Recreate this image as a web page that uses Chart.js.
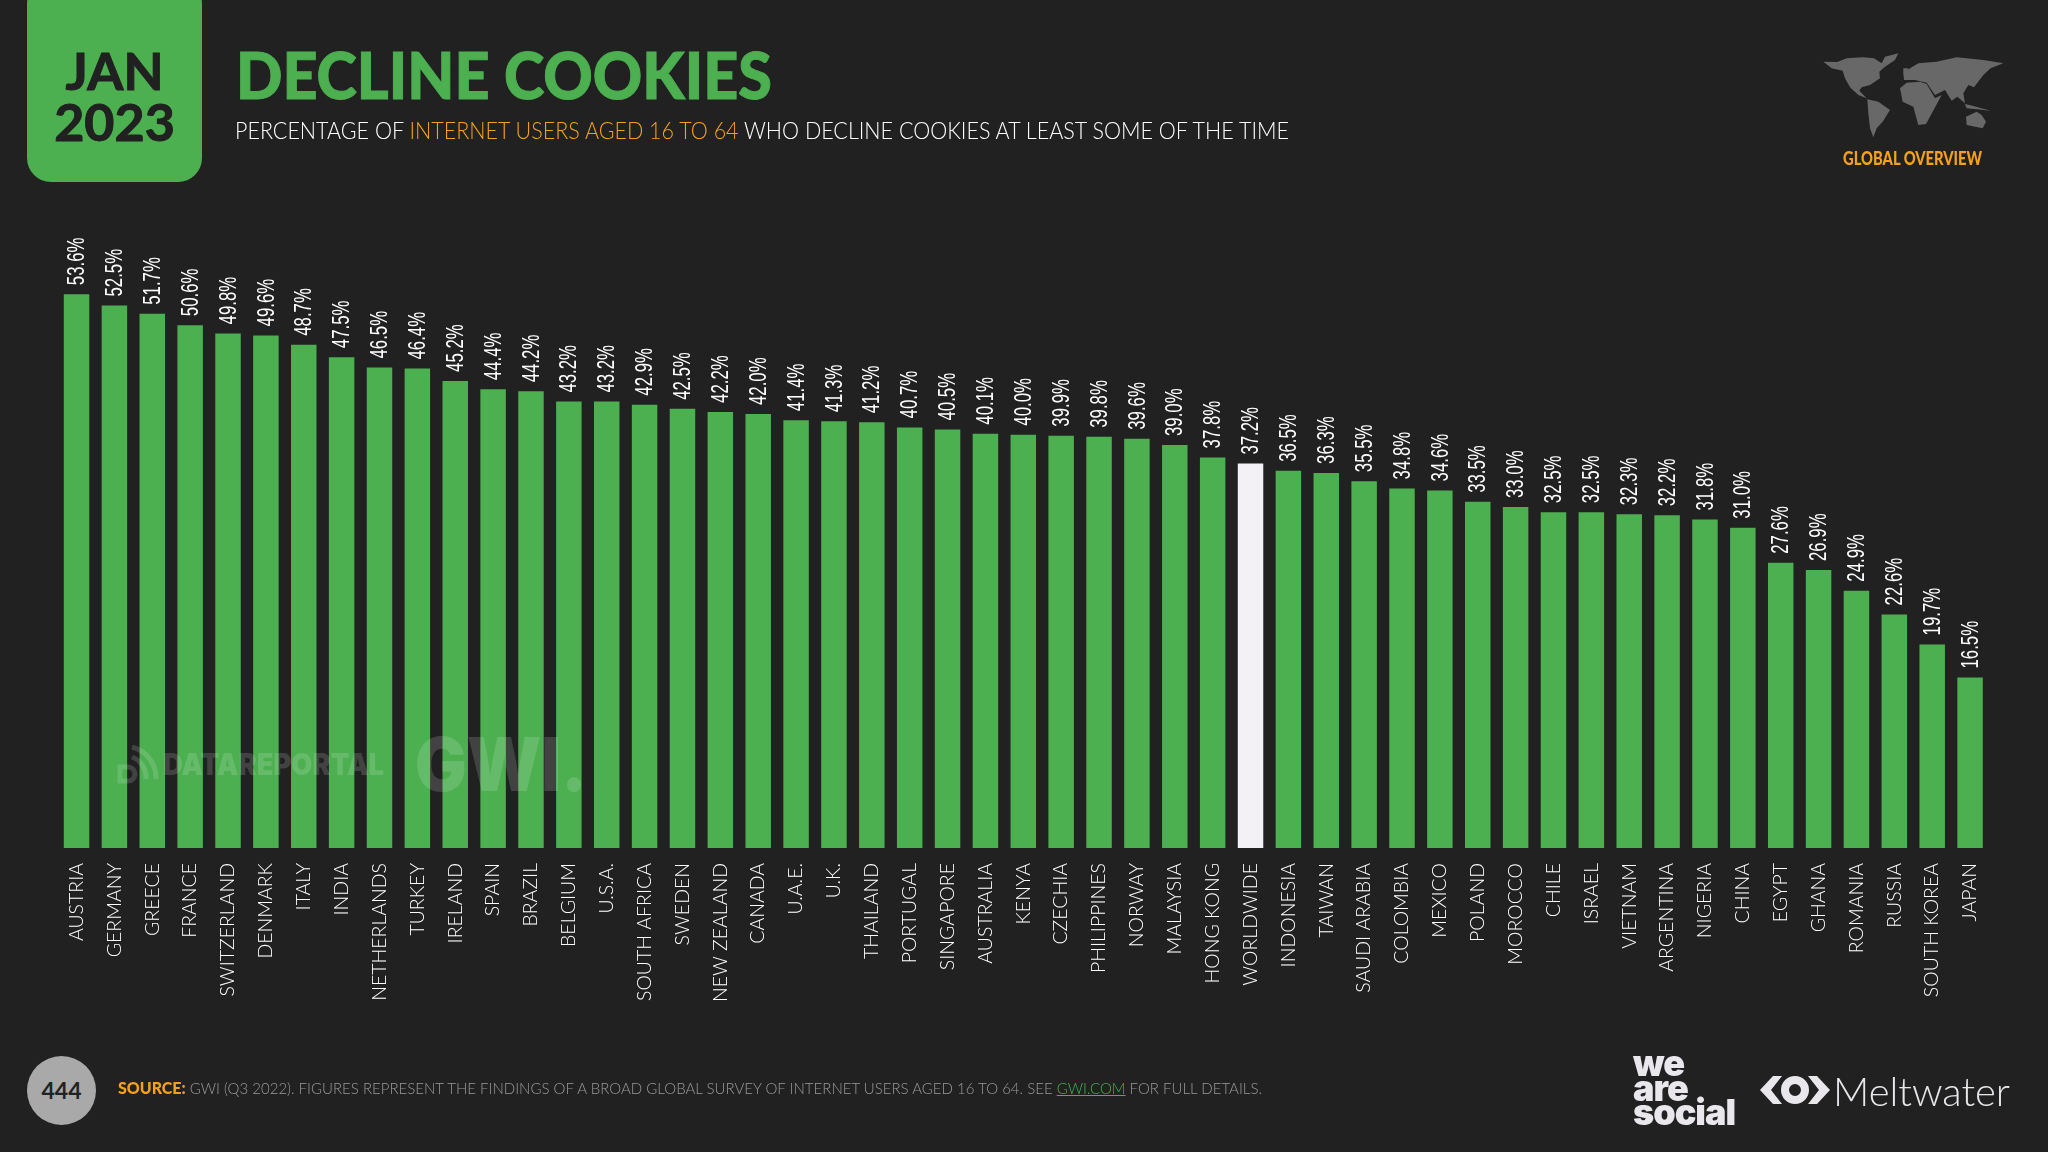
<!DOCTYPE html>
<html>
<head>
<meta charset="utf-8">
<script src="https://cdn.jsdelivr.net/npm/chart.js@4"></script>
<style>
html,body{margin:0;padding:0;background:#212121;}
#page{position:relative;width:2048px;height:1152px;overflow:hidden;background:#212121;font-family:Lato,sans-serif;}
#chart{position:absolute;left:0;top:0;}
.t{position:absolute;white-space:nowrap;transform-origin:0 50%;line-height:1;}
#badge{position:absolute;left:27px;top:-20px;width:175px;height:202px;background:#4caf50;border-radius:24px;}
#badgeText{position:absolute;left:27px;top:0;width:175px;text-align:center;color:#212121;font-weight:700;font-size:52px;-webkit-text-stroke:1px #212121;}
#badgeText div{position:absolute;width:100%;line-height:1;}
#pageNo{position:absolute;left:27px;top:1056px;width:69px;height:69px;border-radius:50%;background:#a9a9a9;color:#222;font-weight:700;font-size:23px;line-height:69px;text-align:center;}
.mark{position:absolute;white-space:nowrap;color:rgba(255,255,255,.15);font-family:Inter,sans-serif;font-weight:900;line-height:1;}
</style>
</head>
<body>
<div id="page">
  <canvas id="chart" width="2048" height="1152"></canvas>

  <div id="badge"></div>
  <div id="badgeText"><div style="top:44px">JAN</div><div style="top:95px">2023</div></div>

  <div class="t" data-w="536" style="left:236px;top:43px;font-size:64px;font-weight:900;color:#4caf50;-webkit-text-stroke:1px #4caf50">DECLINE COOKIES</div>
  <div class="t" data-w="1054" style="left:235px;top:119px;font-size:23px;font-weight:300;color:#ffffff">PERCENTAGE OF <span style="color:#f7a11a">INTERNET USERS AGED 16 TO 64</span> WHO DECLINE COOKIES AT LEAST SOME OF THE TIME</div>

  <svg style="position:absolute;left:1750px;top:0" width="298" height="200" viewBox="0 0 894 600" fill="#686868">
    <polygon points="220,185 262,186 290,175 340,172 372,175 395,190 405,170 445,160 435,180 405,200 388,215 390,235 360,255 335,262 328,272 350,295 325,285 300,262 285,235 278,212 245,205"/>
    <polygon points="352,298 385,305 420,330 398,365 380,385 370,412 360,385 355,340"/>
    <polygon points="450,265 470,248 510,245 530,252 555,295 575,285 548,335 528,372 505,375 490,320 458,305"/>
    <polygon points="460,218 480,205 505,190 560,185 620,172 700,180 760,190 722,205 700,225 672,262 655,255 640,280 645,310 622,290 605,302 585,270 555,285 530,248 495,240 462,240"/>
    <polygon points="648,350 680,335 695,345 708,365 698,385 650,375"/>
    <polygon points="645,312 670,318 722,332 680,328 650,325"/>
    <polygon points="460,205 475,205 470,220 460,220"/>
  </svg>
  <div class="t" data-w="139" style="left:1843px;top:149px;font-size:18px;font-weight:900;color:#f7a11a">GLOBAL OVERVIEW</div>

  <svg style="position:absolute;left:116px;top:745px" width="44" height="44" viewBox="0 0 44 44" fill="none" stroke="rgba(255,255,255,.15)" stroke-width="5">
    <path d="M4 22 h8 a7 7 0 0 1 0 14 h-8 z"/>
    <path d="M16 12 a22 22 0 0 1 14 22"/>
    <path d="M16 2 a32 32 0 0 1 24 32"/>
  </svg>
  <div class="mark" data-w="221" style="left:163px;top:749px;font-size:30px;transform-origin:0 50%">DATAREPORTAL</div>
  <div class="mark" data-w="172" style="left:415px;top:727px;font-size:74px;transform-origin:0 50%">GWI.</div>

  <div id="pageNo">444</div>
  <div class="t" data-w="1144" style="left:118px;top:1079px;font-size:16px;font-weight:300;color:#9a9a9a"><b style="color:#f7a11a;font-size:17px;font-weight:900">SOURCE:</b> GWI (Q3 2022). FIGURES REPRESENT THE FINDINGS OF A BROAD GLOBAL SURVEY OF INTERNET USERS AGED 16 TO 64. SEE <span style="color:#4caf50;text-decoration:underline">GWI.COM</span> FOR FULL DETAILS.</div>

  <div style="position:absolute;left:1633px;top:1051px;font-size:36px;font-weight:900;line-height:24.5px;color:#e9e7eb;font-family:Inter,sans-serif;letter-spacing:-1px">we<br>are<br>social</div>
  <svg style="position:absolute;left:1760px;top:1074px" width="70" height="32" viewBox="0 0 70 32" fill="#e9e7eb">
    <polygon points="13,2 22,2 11,16 22,30 13,30 0,16"/>
    <polygon points="57,2 48,2 59,16 48,30 57,30 70,16"/>
    <circle cx="35" cy="16" r="10" fill="none" stroke="#e9e7eb" stroke-width="8"/>
  </svg>
  <div class="t" data-w="177" style="left:1833px;top:1071px;font-size:40px;font-weight:300;color:#e9e7eb">Meltwater</div>
</div>

<script>
// categories and values
const countries = ["AUSTRIA","GERMANY","GREECE","FRANCE","SWITZERLAND","DENMARK","ITALY","INDIA","NETHERLANDS","TURKEY","IRELAND","SPAIN","BRAZIL","BELGIUM","U.S.A.","SOUTH AFRICA","SWEDEN","NEW ZEALAND","CANADA","U.A.E.","U.K.","THAILAND","PORTUGAL","SINGAPORE","AUSTRALIA","KENYA","CZECHIA","PHILIPPINES","NORWAY","MALAYSIA","HONG KONG","WORLDWIDE","INDONESIA","TAIWAN","SAUDI ARABIA","COLOMBIA","MEXICO","POLAND","MOROCCO","CHILE","ISRAEL","VIETNAM","ARGENTINA","NIGERIA","CHINA","EGYPT","GHANA","ROMANIA","RUSSIA","SOUTH KOREA","JAPAN"];
const declineShare = [53.6,52.5,51.7,50.6,49.8,49.6,48.7,47.5,46.5,46.4,45.2,44.4,44.2,43.2,43.2,42.9,42.5,42.2,42.0,41.4,41.3,41.2,40.7,40.5,40.1,40.0,39.9,39.8,39.6,39.0,37.8,37.2,36.5,36.3,35.5,34.8,34.6,33.5,33.0,32.5,32.5,32.3,32.2,31.8,31.0,27.6,26.9,24.9,22.6,19.7,16.5];

// squeeze header and footer text to the measured widths
document.querySelectorAll("[data-w]").forEach(el => {
  const w = el.getBoundingClientRect().width;
  el.style.transform = `scaleX(${el.dataset.w / w})`;
});

// rotated value label above each bar
const valueLabels = {
  id: "valueLabels",
  afterDatasetsDraw(chart){
    const ctx = chart.ctx;
    chart.getDatasetMeta(0).data.forEach((bar, i) => {
      ctx.save();
      ctx.translate(bar.x + 1, bar.y - 9);
      ctx.rotate(-Math.PI / 2);
      ctx.scale(0.7, 1);
      ctx.font = "24px 'Liberation Sans'";
      ctx.fillStyle = "#fff";
      ctx.textAlign = "left";
      ctx.textBaseline = "middle";
      ctx.fillText(declineShare[i].toFixed(1) + "%", 0, 0);
      ctx.restore();
    });
  }
};

new Chart(document.getElementById("chart"), {
  type: "bar",
  data: {
    labels: countries,
    datasets: [{
      data: declineShare,
      backgroundColor: countries.map(c => c === "WORLDWIDE" ? "#f3f1f5" : "#4caf50"),
      barPercentage: 0.673,
      categoryPercentage: 1
    }]
  },
  options: {
    responsive: false,
    animation: false,
    layout: { padding: { top: 228, left: 57.6, right: 59, bottom: 0 } },
    plugins: { legend: { display: false }, tooltip: { enabled: false } },
    scales: {
      y: { display: false, min: 0, max: 60 },
      x: {
        afterFit: s => { s.height = 304; },
        grid: { display: false },
        border: { display: false },
        ticks: {
          autoSkip: false, minRotation: 90, maxRotation: 90, padding: 7,
          color: "#ffffff",
          font: { family: "Lato", size: 19.5, weight: 300 }
        }
      }
    }
  },
  plugins: [valueLabels]
});
</script>
</body>
</html>
